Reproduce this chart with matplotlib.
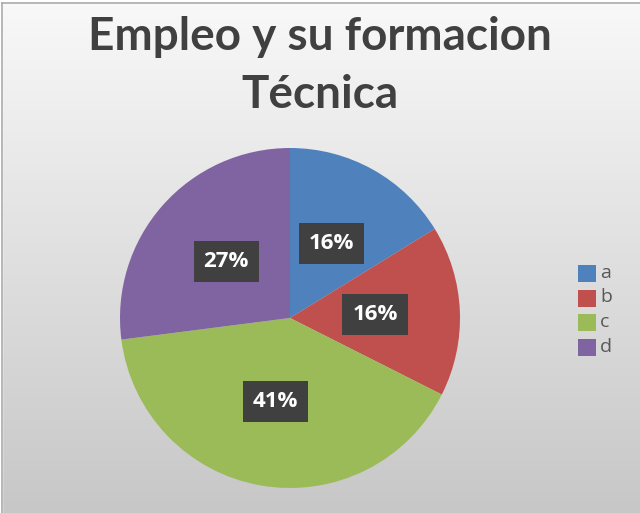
import matplotlib
matplotlib.use("Agg")
import matplotlib.pyplot as plt
import numpy as np
from matplotlib.patches import Rectangle

categories = ["a", "b", "c", "d"]
values = [6, 6, 15, 10]
colors = ["#4F81BD", "#C0504D", "#9BBB59", "#8064A2"]
title = "Empleo y su formacion\nTécnica"

W, H = 640, 513
fig = plt.figure(figsize=(W / 100, H / 100), dpi=100)
fig.patch.set_facecolor("white")

# background gradient
bg = fig.add_axes([0, 0, 1, 1], zorder=0)
grad = np.linspace(0, 1, 256).reshape(-1, 1)
top = np.array([0.975, 0.975, 0.975])
bot = np.array([0.78, 0.78, 0.78])
img = top[None, None, :] * (1 - grad[:, :, None]) + bot[None, None, :] * grad[:, :, None]
bg.imshow(img, aspect="auto", extent=[0, W, H, 0])
bg.set_xlim(0, W)
bg.set_ylim(H, 0)
bg.axis("off")
bg.add_patch(Rectangle((0, 0), W, 3, color="white", zorder=2))
bg.add_patch(Rectangle((0, 0), 2, H, color="white", zorder=2))
bg.plot([2, 2], [3, H], color="#AAAAAA", lw=1.2, zorder=3)
bg.plot([2, W], [3, 3], color="#AAAAAA", lw=1.2, zorder=3)

# pie axes: center (290, 318), radius 170
cx, cy, r = 290, 318, 170
ax = fig.add_axes([(cx - r) / W, (H - cy - r) / H, 2 * r / W, 2 * r / H], zorder=1)
wedges, texts, autotexts = ax.pie(
    values, colors=colors, startangle=90, counterclock=False,
    autopct="%1.0f%%", pctdistance=0.5, radius=1.0,
    wedgeprops=dict(linewidth=0),
    textprops=dict(color="white", fontsize=16, fontweight="bold", family="Open Sans"),
)
for t in autotexts:
    t.set_bbox(dict(boxstyle="square,pad=0.45", facecolor="#404040", edgecolor="none"))
ax.set_xlim(-1, 1)
ax.set_ylim(-1, 1)
ax.set_aspect("auto")
ax.axis("off")

fig.text(0.5, 1 - 37 / H, "Empleo y su formacion", ha="center", va="center", fontsize=33,
         fontweight="bold", color="#404040", family="Lato")
fig.text(0.5, 1 - 95 / H, "Técnica", ha="center", va="center", fontsize=33,
         fontweight="bold", color="#404040", family="Lato")

# legend
for i, (cat, col) in enumerate(zip(categories, colors)):
    y = 273 + i * 24.5
    bg.add_patch(Rectangle((578, y - 8), 18, 17, facecolor=col, edgecolor="none", zorder=3))
    bg.text(600, y, cat, ha="left", va="center", fontsize=14, color="#595959",
            family="Open Sans", zorder=3)

fig.savefig("out.png", dpi=100, facecolor=fig.get_facecolor())
